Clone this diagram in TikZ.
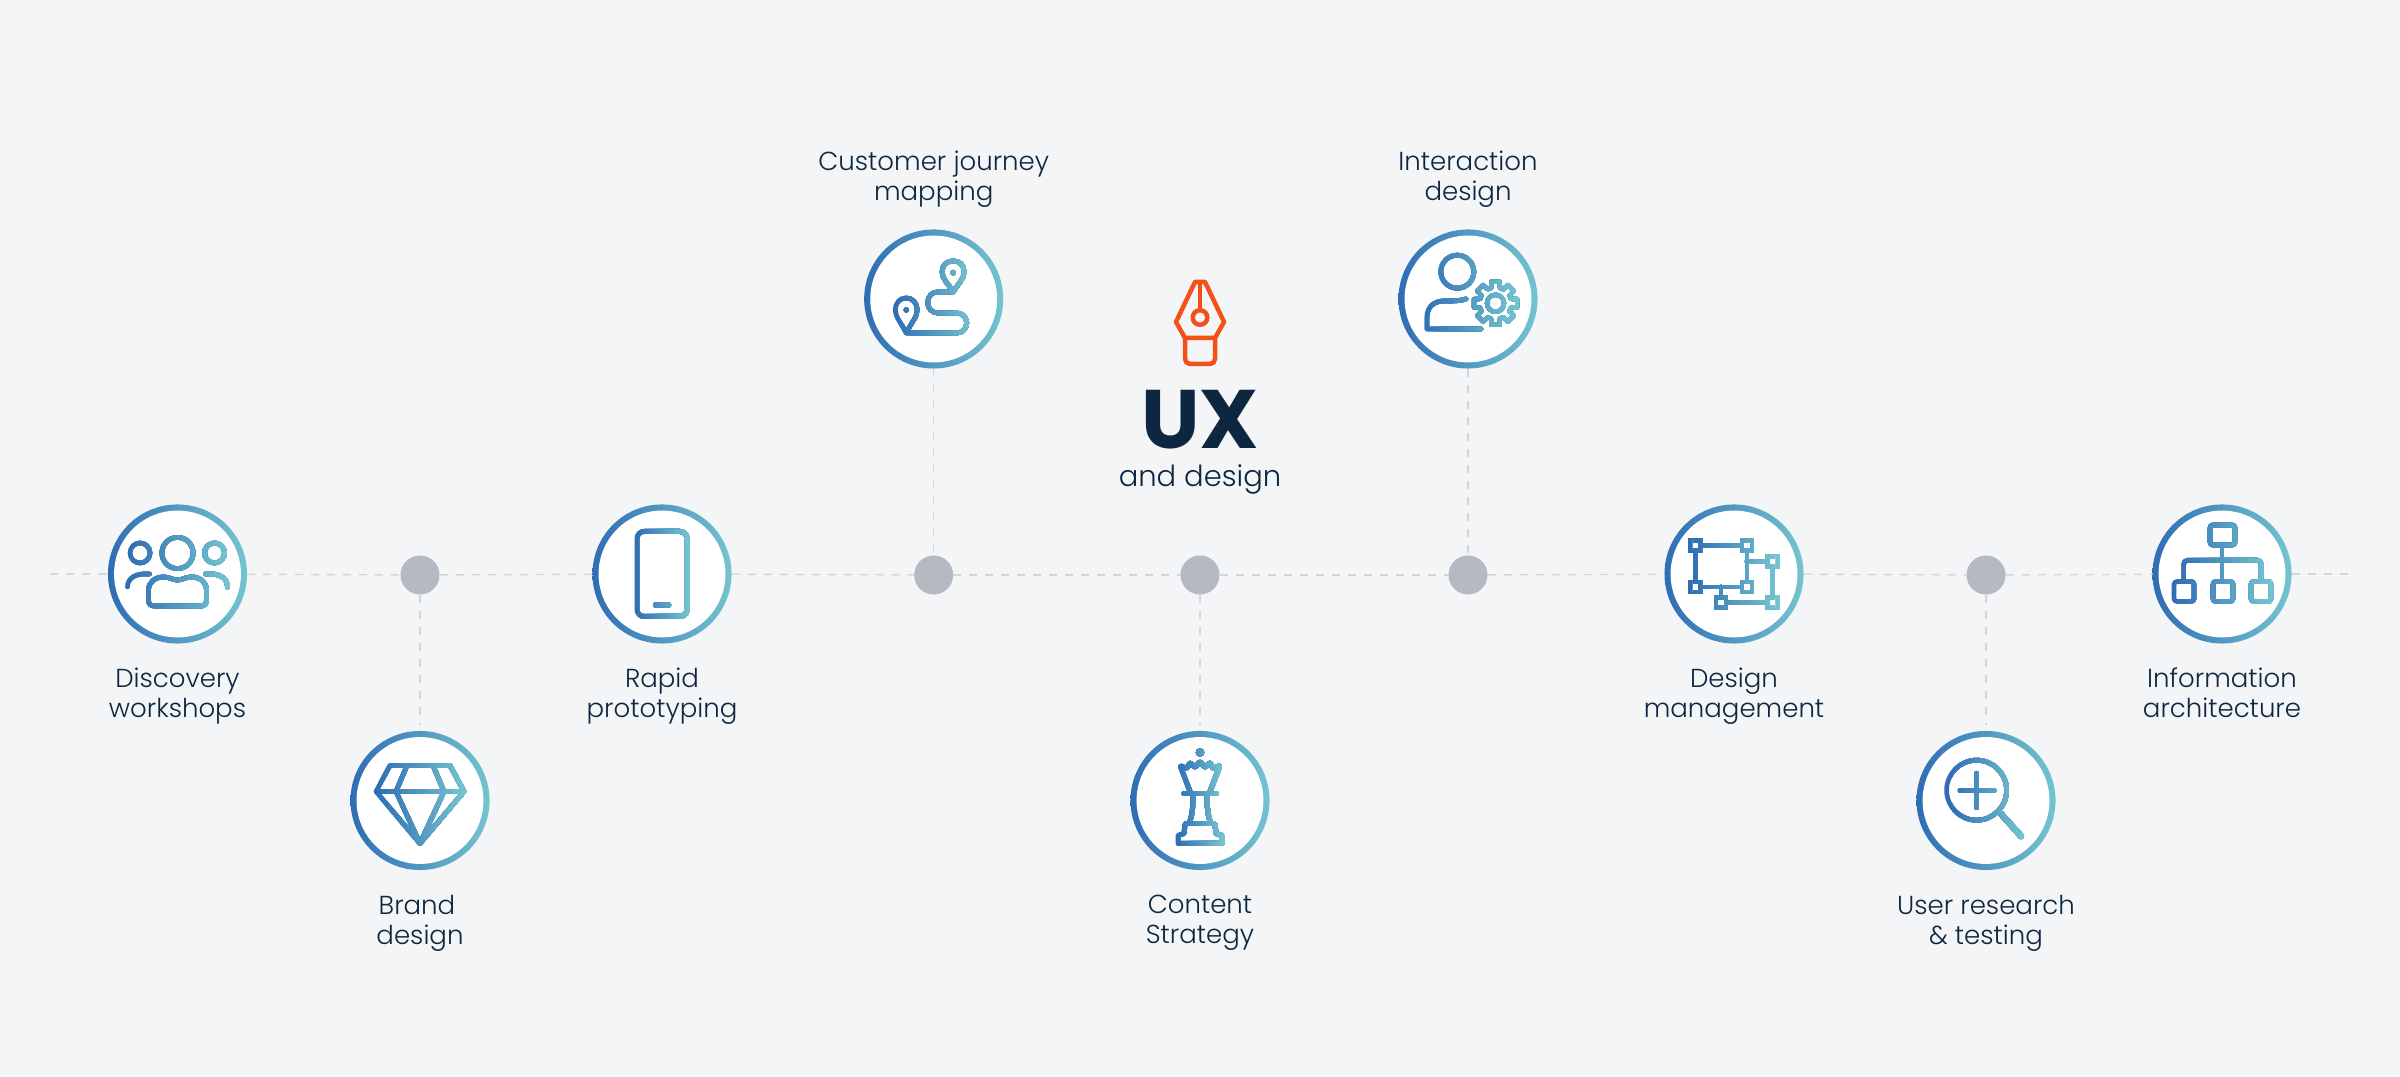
\documentclass[tikz,border=0pt]{standalone}
\usepackage{fontspec}
\setmainfont{Poppins}
\newfontfamily\poplight{Poppins Light}
\newfontfamily\popbold{Poppins Bold}

\definecolor{pagebg}{HTML}{F3F5F7}
\definecolor{inkdark}{HTML}{0E2740}
\definecolor{bluel}{HTML}{2F6DB4}
\definecolor{tealr}{HTML}{74C4CF}
\definecolor{dotgrey}{HTML}{B4B9C2}
\definecolor{guidegrey}{HTML}{D2D5DA}
\definecolor{penorange}{HTML}{F4511A}

\tikzset{
  badge/.style={circle, inner sep=0pt, outer sep=0pt, minimum size=1.39cm, left color=bluel, right color=tealr,
    path picture={\fill[white] (path picture bounding box.center) circle (0.634cm);}},
  stop/.style={circle, inner sep=0pt, outer sep=0pt, minimum size=0.39cm, fill=dotgrey},
  guide/.style={guidegrey, line width=0.14mm, dash pattern=on 0.8mm off 0.8mm},
  caption/.style={align=center, inner sep=0pt, text=inkdark, font=\fontsize{7.4}{8.5}\selectfont\poplight},
  iconpen/.style={line width=0.47mm, line cap=round, line join=round},
  handle/.style={fill=white, line width=0.47mm, line join=miter}
}

% #1 badge, #2 half width of the gradient, #3 icon: painted in strips, left to right
\newcommand{\gradicon}[3]{%
  \begin{scope}[shift={(#1.center)}, iconpen]
    \foreach \k in {0,...,19} {
      \pgfmathsetmacro{\mixv}{\k*100/19}
      \pgfmathsetmacro{\stripx}{\k==0 ? -100 : -#2+\k*#2/10}
      \colorlet{stripcol}{tealr!\mixv!bluel}
      \begin{scope}
        \clip (\stripx,-70) rectangle (100,70);
        \begin{scope}[color=stripcol]
          #3
        \end{scope}
      \end{scope}
    }
  \end{scope}%
}

\newcommand{\iconpeople}{
  \draw (0,-21) circle (15.6);
  \draw (-37.5,-21) circle (10);
  \draw (37,-21) circle (10);
  \draw (-29,16) .. controls (-29,8) and (-22,3) .. (-14,3) .. controls (-8,3) and (-5,6) .. (0,6)
    .. controls (5,6) and (8,3) .. (14,3) .. controls (22,3) and (29,8) .. (29,16) -- (29,26)
    .. controls (29,30) and (27,32) .. (23,32) -- (-23,32) .. controls (-27,32) and (-29,30) .. (-29,26) -- cycle;
  \draw (-50,13) .. controls (-50,4) and (-42,-1) .. (-28,0);
  \draw (50,13) .. controls (50,4) and (42,-1) .. (28,0);
}
\newcommand{\icongem}{
  \draw (-30,-35) -- (30,-35) -- (44,-9) -- (0,43) -- (-44,-9) -- cycle;
  \draw (-44,-9) -- (44,-9);
  \draw (-13,-35) -- (-24,-9) -- (0,43) -- (24,-9) -- (13,-35);
}
\newcommand{\iconphone}{
  \draw[rounded corners=0.7mm, line width=0.5mm] (-25,-42.5) rectangle (25,42.5);
  \fill[rounded corners=0.2mm] (-9,28.5) rectangle (9,33.5);
}
\newcommand{\iconmap}{
  \draw (19.4,-7) .. controls (14,-16) and (8.4,-20) .. (8.4,-27) .. controls (8.4,-34) and (13,-38) .. (19.4,-38)
    .. controls (26,-38) and (30.4,-34) .. (30.4,-27) .. controls (30.4,-20) and (25,-16) .. (19.4,-7) -- cycle;
  \fill (19.4,-26.3) circle (2.8);
  \draw (-27.5,34) .. controls (-33,23) and (-38.5,18) .. (-38.5,11) .. controls (-38.5,4) and (-34,-1) .. (-27.5,-1)
    .. controls (-21,-1) and (-16.5,4) .. (-16.5,11) .. controls (-16.5,18) and (-22,23) .. (-27.5,34) -- cycle;
  \fill (-27.5,11) circle (2.8);
  \draw[rounded corners=1mm] (19,-7) -- (-6,-7) -- (-6,14) -- (33,14) -- (33,34) -- (-27,34);
}
\newcommand{\iconperson}{
  \draw (-10.7,-27.3) circle (16.5);
  \draw (-2,0) .. controls (-8,2) and (-14,2) .. (-24,2) .. controls (-34,2) and (-41,8) .. (-41,18) -- (-41,30) -- (13,30);
  \begin{scope}[shift={(27.5,4.3)}, line width=0.42mm]
    \draw (0,0) circle (8.5);
    \foreach \a in {0,45,...,315} {
      \draw (\a-16:16) -- (\a-11:22) -- (\a+11:22) -- (\a+16:16) -- (\a+29:16);
    }
  \end{scope}
}
\newcommand{\iconqueen}{
  \fill (0,-48) circle (4.3);
  \draw[rounded corners=0.1mm, line width=0.5mm] (-10,-9) -- (-20,-35) -- (-13,-32) -- (-10,-38) -- (-5,-33) -- (0,-39) -- (5,-33) -- (10,-38) -- (13,-32) -- (20,-35) -- (10,-9);
  \draw[line width=0.55mm] (-16,-7) -- (16,-7);
  \draw[line width=0.5mm] (-7,-5) .. controls (-7,8) and (-8,16) .. (-11,23);
  \draw[line width=0.5mm] (7,-5) .. controls (7,8) and (8,16) .. (11,23);
  \draw[line width=0.5mm] (-14,23) -- (14,23);
  \draw[line width=0.5mm] (-15,24) -- (-16,33) -- (-22,35) -- (-22,43) -- (22,43) -- (22,35) -- (16,33) -- (15,24);
}
\newcommand{\iconhandles}{
  \draw (-38.4,-28.7) -- (13,-28.7) -- (13,13) -- (-38.4,13) -- cycle;
  \draw (13,-12.7) -- (38.8,-12.7) -- (38.8,28.7) -- (-13,28.7) -- (-13,13);
  \draw[handle] (-43.4,-33.7) rectangle (-33.4,-23.7);
  \draw[handle] (8,-33.7) rectangle (18,-23.7);
  \draw[handle] (-43.4,8) rectangle (-33.4,18);
  \draw[handle] (8,8) rectangle (18,18);
  \draw[handle] (33.8,-17.7) rectangle (43.8,-7.7);
  \draw[handle] (33.8,23.7) rectangle (43.8,33.7);
  \draw[handle] (-18,23.7) rectangle (-8,33.7);
}
\newcommand{\iconlens}{
  \draw (-9.4,-10.3) circle (30);
  \draw[line width=0.5mm] (-26,-10.3) -- (8,-10.3);
  \draw[line width=0.5mm] (-9.4,-27) -- (-9.4,7);
  \draw[line width=0.6mm] (14.7,13) -- (35,35.7);
}
\newcommand{\icontree}{
  \draw[rounded corners=0.3mm] (-12,-49) rectangle (13,-29);
  \draw (0,-29) -- (0,6);
  \draw[rounded corners=0.4mm] (-38.4,6) -- (-38.4,-13.7) -- (39.3,-13.7) -- (39.3,6);
  \draw[rounded corners=0.3mm] (-48,7.5) rectangle (-28,27.5);
  \draw[rounded corners=0.3mm] (-9,7.5) rectangle (11,27.5);
  \draw[rounded corners=0.3mm] (29,7.5) rectangle (49,27.5);
}

\begin{document}
\begin{tikzpicture}[x=0.01cm, y=-0.01cm]
  \fill[pagebg] (0,0) rectangle (2400,1077);

  % stops and badges
  \node[badge] (disc) at (177.5,574) {};
  \node[stop] (dotb) at (420,575) {};
  \node[badge] (brand) at (420,800.5) {};
  \node[badge] (rapid) at (662,574) {};
  \node[badge] (cjm) at (933.7,299) {};
  \node[stop] (dotc) at (933.7,575) {};
  \node[stop] (dotm) at (1200,575) {};
  \node[badge] (cstr) at (1200,800.5) {};
  \node[badge] (ixd) at (1468,299) {};
  \node[stop] (dotx) at (1468,575) {};
  \node[badge] (dsgn) at (1734,574) {};
  \node[stop] (dotu) at (1986,575) {};
  \node[badge] (ures) at (1986,800.5) {};
  \node[badge] (info) at (2222,574) {};
  \coordinate (railL) at (50,574);
  \coordinate (railR) at (2348,574);

  % dashed rail
  \draw[guide] (railL) -- (disc);
  \draw[guide] (disc) -- (dotb);
  \draw[guide] (dotb) -- (rapid);
  \draw[guide] (rapid) -- (dotc);
  \draw[guide] (dotc) -- (dotm);
  \draw[guide] (dotm) -- (dotx);
  \draw[guide] (dotx) -- (dsgn);
  \draw[guide] (dsgn) -- (dotu);
  \draw[guide] (dotu) -- (info);
  \draw[guide] (info) -- (railR);
  \draw[guide, shorten >=0.06cm] (dotb) -- (brand);
  \draw[guide] (cjm) -- (dotc);
  \draw[guide, shorten >=0.06cm] (dotm) -- (cstr);
  \draw[guide] (ixd) -- (dotx);
  \draw[guide, shorten >=0.06cm] (dotu) -- (ures);

  % icons
  \gradicon{disc}{52}{\iconpeople}
  \gradicon{brand}{46}{\icongem}
  \gradicon{rapid}{28}{\iconphone}
  \gradicon{cjm}{40}{\iconmap}
  \gradicon{ixd}{50}{\iconperson}
  \gradicon{cstr}{24}{\iconqueen}
  \gradicon{dsgn}{46}{\iconhandles}
  \gradicon{ures}{38}{\iconlens}
  \gradicon{info}{50}{\icontree}

  % pen
  \begin{scope}[shift={(1200,0)}, penorange, line width=0.45mm, line join=round]
    \draw (-5,282) -- (5,282) -- (24,322) -- (15,338) -- (-15,338) -- (-24,322) -- cycle;
    \draw (0,282) -- (0,309);
    \draw (0,317.5) circle (7.3);
    \draw[rounded corners=0.5mm] (-15,338) -- (-15,364) -- (15,364) -- (15,338);
  \end{scope}

  % texts
  \node[font=\fontsize{23.6}{24}\selectfont\popbold, text=inkdark, inner sep=0pt] (ux) at (1200,420) {UX};
  \node[font=\fontsize{8.25}{10}\selectfont\poplight, text=inkdark, inner sep=0pt] (uxsub) at (1200,479) {and design};
  \node[caption] (tdisc) at (177.5,696) {Discovery\\workshops};
  \node[caption] (tbrand) at (420,923) {Brand\hspace*{0.06cm}\\design};
  \node[caption] (trapid) at (662,696) {Rapid\\prototyping};
  \node[caption] (tcjm) at (933.7,179) {Customer journey\\mapping};
  \node[caption] (tcstr) at (1200,923) {Content\\Strategy};
  \node[caption] (tixd) at (1468,179) {Interaction\\design};
  \node[caption] (tdsgn) at (1734,696) {Design\\management};
  \node[caption] (tures) at (1986,923) {User research\\\& testing};
  \node[caption] (tinfo) at (2222,693) {Information\\architecture};
\end{tikzpicture}
\end{document}
